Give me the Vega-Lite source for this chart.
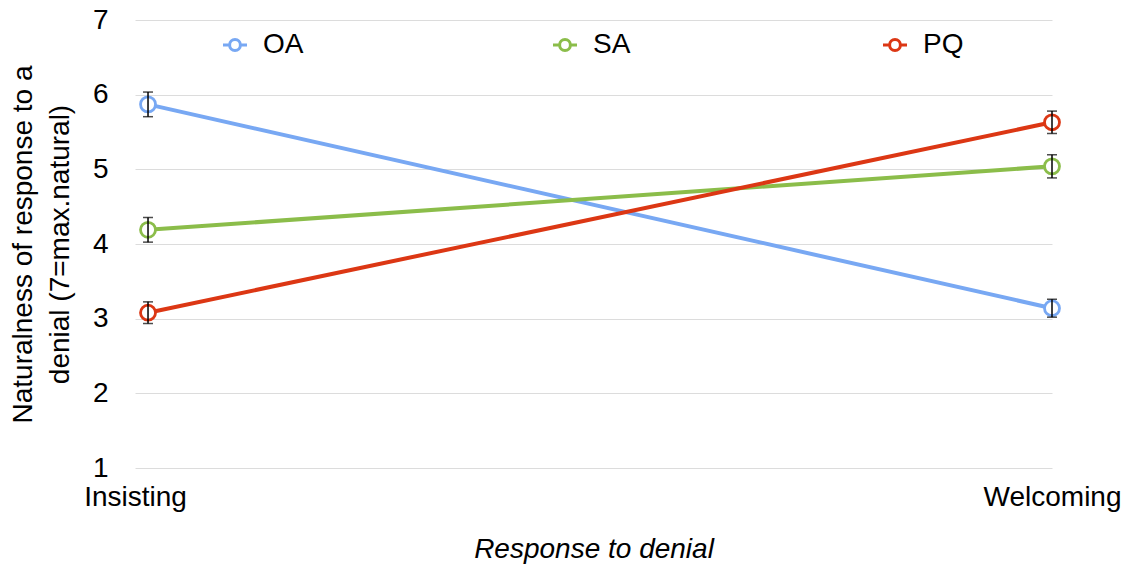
{
  "$schema": "https://vega.github.io/schema/vega-lite/v6.json",
  "width": 917,
  "height": 448,
  "autosize": "none",
  "padding": {"left": 135, "top": 20, "right": 75, "bottom": 102},
  "background": "white",
  "config": {
    "font": "Liberation Sans",
    "view": {"stroke": null}
  },
  "data": {
    "values": [
      {"group": "OA", "response": "Insisting", "mean": 5.87, "lo": 5.705, "hi": 6.035},
      {"group": "OA", "response": "Welcoming", "mean": 3.14, "lo": 3.02, "hi": 3.26},
      {"group": "SA", "response": "Insisting", "mean": 4.19, "lo": 4.025, "hi": 4.355},
      {"group": "SA", "response": "Welcoming", "mean": 5.04, "lo": 4.885, "hi": 5.195},
      {"group": "PQ", "response": "Insisting", "mean": 3.08, "lo": 2.935, "hi": 3.225},
      {"group": "PQ", "response": "Welcoming", "mean": 5.63, "lo": 5.48, "hi": 5.78}
    ]
  },
  "encoding": {
    "x": {
      "field": "response",
      "type": "nominal",
      "sort": ["Insisting", "Welcoming"],
      "scale": {"type": "point", "padding": 0.0072, "align": 1},
      "axis": {
        "title": "Response to denial",
        "titleFontSize": 28,
        "titleFontWeight": "normal",
        "titleFontStyle": "italic",
        "titleColor": "black",
        "titlePadding": 24,
        "labelFontSize": 28,
        "labelColor": "black",
        "labelAngle": 0,
        "labelPadding": 15,
        "labelOffset": {"condition": {"test": "datum.value == 'Insisting'", "value": -13}, "value": 0},
        "domain": false,
        "ticks": false,
        "grid": false
      }
    }
  },
  "layer": [
    {
      "mark": {"type": "line", "strokeWidth": 4},
      "encoding": {
        "y": {
          "field": "mean",
          "type": "quantitative",
          "scale": {"domain": [1, 7], "nice": false, "zero": false},
          "axis": {
            "values": [1, 2, 3, 4, 5, 6, 7],
            "format": "d",
            "title": ["Naturalness of response to a", "denial (7=max.natural)"],
            "titleFontSize": 28,
            "titleFontWeight": "normal",
            "titleColor": "black",
            "titleLineHeight": 37,
            "titlePadding": 18,
            "labelFontSize": 28,
            "labelColor": "black",
            "labelPadding": 27,
            "domain": false,
            "ticks": false,
            "grid": true,
            "gridColor": "#dcdcdc",
            "gridWidth": 1
          }
        },
        "color": {
          "field": "group",
          "type": "nominal",
          "scale": {"domain": ["OA", "SA", "PQ"], "range": ["#78a8f3", "#8bbd4a", "#dc3714"]},
          "legend": {
            "title": null,
            "orient": "none",
            "direction": "horizontal",
            "columns": 3,
            "gridAlign": "all",
            "legendX": 86,
            "legendY": 11,
            "padding": 0,
            "columnPadding": 243,
            "labelFontSize": 28,
            "labelColor": "black",
            "labelOffset": 14,
            "symbolType": "M-1,0L-0.45,0M0.45,0L1,0M-0.45,0A0.45,0.45,0,1,1,0.45,0A0.45,0.45,0,1,1,-0.45,0",
            "symbolSize": 576,
            "symbolStrokeWidth": 3,
            "symbolFillColor": "transparent"
          }
        }
      }
    },
    {
      "mark": {"type": "point", "filled": false, "fill": "white", "size": 225, "strokeWidth": 2.8, "opacity": 1},
      "encoding": {
        "y": {"field": "mean", "type": "quantitative"},
        "color": {"field": "group", "type": "nominal", "legend": null}
      }
    },
    {
      "mark": {"type": "rule", "color": "black", "strokeWidth": 1.5},
      "encoding": {
        "y": {"field": "lo", "type": "quantitative"},
        "y2": {"field": "hi"}
      }
    },
    {
      "mark": {"type": "tick", "color": "black", "size": 10, "thickness": 1.5, "orient": "horizontal"},
      "encoding": {
        "y": {"field": "lo", "type": "quantitative"}
      }
    },
    {
      "mark": {"type": "tick", "color": "black", "size": 10, "thickness": 1.5, "orient": "horizontal"},
      "encoding": {
        "y": {"field": "hi", "type": "quantitative"}
      }
    }
  ]
}
